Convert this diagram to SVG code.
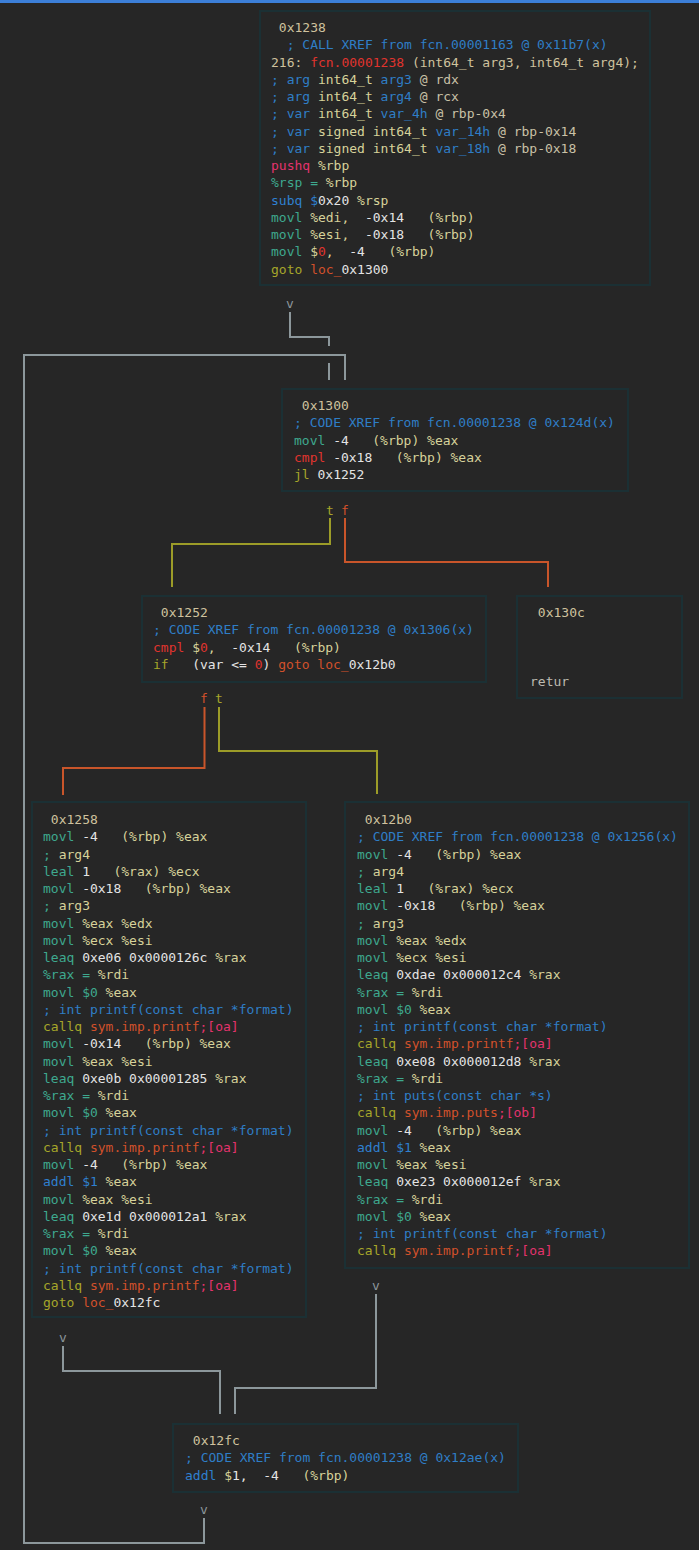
<svg xmlns="http://www.w3.org/2000/svg" width="699" height="1550" viewBox="0 0 699 1550" xml:space="preserve">
<style>
text{font-family:"DejaVu Sans Mono","Liberation Mono",monospace;font-size:13px;white-space:pre}
.node rect{fill:#262626;stroke:#1b3034;stroke-width:2}
.a{fill:#cfc29e}.c{fill:#2f7ec6}.k{fill:#d7d29a}.w{fill:#e4e4e4}.t{fill:#3ea98f}.p{fill:#e3336d}.r{fill:#e0342e}.o{fill:#d2512b}.l{fill:#a6a62a}.b{fill:#2f80d0}.g{fill:#c9c1a6}.q{fill:#bdbab0}
.e{fill:none;stroke-width:2}
.gr{stroke:#8c979b}.ol{stroke:#9c9c28}.or{stroke:#c9552a}
.lbl{text-anchor:middle}
</style>
<rect x="0" y="0" width="699" height="1550" fill="#262626"/>
<rect x="0" y="0" width="699" height="3" fill="#3c7fd8"/>
<g id="edges">
<path class="e gr" d="M290 312V337H329V346M329 363V380"/>
<path class="e gr" d="M204 1518V1543H24V355H345V380"/>
<path class="e ol" d="M330 518V544H172V587"/>
<path class="e or" d="M345 518V562H548V587"/>
<path class="e or" d="M204.5 707V768H63V795"/>
<path class="e ol" d="M219 707V751H377V794"/>
<path class="e gr" d="M63 1346V1371H220V1414"/>
<path class="e gr" d="M376 1294V1388H235V1414"/>
<text class="lbl" x="290" y="308" fill="#8c979b">v</text>
<text class="lbl" x="204" y="1514" fill="#8c979b">v</text>
<text class="lbl" x="63" y="1342" fill="#8c979b">v</text>
<text class="lbl" x="376" y="1290" fill="#8c979b">v</text>
<text class="lbl l" x="330" y="515">t</text>
<text class="lbl o" x="345" y="515">f</text>
<text class="lbl o" x="204" y="703">f</text>
<text class="lbl l" x="219" y="703">t</text>
</g>
<g id="n0x1238" class="node">
<rect x="260" y="11" width="390" height="274"/>
<text x="271" y="32"><tspan class="a"> 0x1238</tspan></text>
<text x="271" y="49.25"><tspan class="c">  ; CALL XREF from fcn.00001163 @ 0x11b7(x)</tspan></text>
<text x="271" y="66.5"><tspan class="a">216: </tspan><tspan class="r">fcn.00001238</tspan><tspan class="a"> (int64_t arg3, int64_t arg4);</tspan></text>
<text x="271" y="83.75"><tspan class="c">; arg </tspan><tspan class="k">int64_t </tspan><tspan class="c">arg3</tspan><tspan class="g"> @ rdx</tspan></text>
<text x="271" y="101"><tspan class="c">; arg </tspan><tspan class="k">int64_t </tspan><tspan class="c">arg4</tspan><tspan class="g"> @ rcx</tspan></text>
<text x="271" y="118.25"><tspan class="c">; var </tspan><tspan class="k">int64_t </tspan><tspan class="c">var_4h</tspan><tspan class="g"> @ rbp-0x4</tspan></text>
<text x="271" y="135.5"><tspan class="c">; var </tspan><tspan class="k">signed int64_t </tspan><tspan class="c">var_14h</tspan><tspan class="g"> @ rbp-0x14</tspan></text>
<text x="271" y="152.75"><tspan class="c">; var </tspan><tspan class="k">signed int64_t </tspan><tspan class="c">var_18h</tspan><tspan class="g"> @ rbp-0x18</tspan></text>
<text x="271" y="170"><tspan class="p">pushq</tspan><tspan class="k"> %rbp</tspan></text>
<text x="271" y="187.25"><tspan class="t">%rsp =</tspan><tspan class="k"> %rbp</tspan></text>
<text x="271" y="204.5"><tspan class="b">subq $</tspan><tspan class="w">0x20</tspan><tspan class="k"> %rsp</tspan></text>
<text x="271" y="221.75"><tspan class="t">movl</tspan><tspan class="k"> %edi,</tspan><tspan class="w">  -0x14</tspan><tspan class="k">   (%rbp)</tspan></text>
<text x="271" y="239"><tspan class="t">movl</tspan><tspan class="k"> %esi,</tspan><tspan class="w">  -0x18</tspan><tspan class="k">   (%rbp)</tspan></text>
<text x="271" y="256.25"><tspan class="t">movl</tspan><tspan class="k"> $</tspan><tspan class="r">0</tspan><tspan class="k">,</tspan><tspan class="w">  -4</tspan><tspan class="k">   (%rbp)</tspan></text>
<text x="271" y="273.5"><tspan class="l">goto</tspan><tspan class="o"> loc_</tspan><tspan class="w">0x1300</tspan></text>
</g>
<g id="n0x1300" class="node">
<rect x="282" y="389" width="346" height="102"/>
<text x="294" y="410"><tspan class="a"> 0x1300</tspan></text>
<text x="294" y="427.25"><tspan class="c">; CODE XREF from fcn.00001238 @ 0x124d(x)</tspan></text>
<text x="294" y="444.5"><tspan class="t">movl</tspan><tspan class="w"> -4</tspan><tspan class="k">   (%rbp) %eax</tspan></text>
<text x="294" y="461.75"><tspan class="r">cmpl</tspan><tspan class="w"> -0x18</tspan><tspan class="k">   (%rbp) %eax</tspan></text>
<text x="294" y="479"><tspan class="l">jl</tspan><tspan class="w"> 0x1252</tspan></text>
</g>
<g id="n0x1252" class="node">
<rect x="142" y="596" width="344" height="86"/>
<text x="153" y="617"><tspan class="a"> 0x1252</tspan></text>
<text x="153" y="634.25"><tspan class="c">; CODE XREF from fcn.00001238 @ 0x1306(x)</tspan></text>
<text x="153" y="651.5"><tspan class="r">cmpl</tspan><tspan class="k"> $</tspan><tspan class="r">0</tspan><tspan class="k">,</tspan><tspan class="w">  -0x14   </tspan><tspan class="k">(%rbp)</tspan></text>
<text x="153" y="668.75"><tspan class="l">if</tspan><tspan class="w">   (var &lt;= </tspan><tspan class="r">0</tspan><tspan class="w">)</tspan><tspan class="o"> goto loc_</tspan><tspan class="w">0x12b0</tspan></text>
</g>
<g id="n0x130c" class="node">
<rect x="517" y="596" width="165" height="102"/>
<text x="530" y="617"><tspan class="a"> 0x130c</tspan></text>
<text x="530" y="686"><tspan class="q">retur</tspan></text>
</g>
<g id="n0x1258" class="node">
<rect x="32" y="802" width="274" height="515"/>
<text x="43" y="824"><tspan class="a"> 0x1258</tspan></text>
<text x="43" y="841.25"><tspan class="t">movl</tspan><tspan class="w"> -4</tspan><tspan class="k">   (%rbp) %eax</tspan></text>
<text x="43" y="858.5"><tspan class="t">;</tspan><tspan class="k"> arg4</tspan></text>
<text x="43" y="875.75"><tspan class="t">leal</tspan><tspan class="w"> 1</tspan><tspan class="k">   (%rax) %ecx</tspan></text>
<text x="43" y="893"><tspan class="t">movl</tspan><tspan class="w"> -0x18</tspan><tspan class="k">   (%rbp) %eax</tspan></text>
<text x="43" y="910.25"><tspan class="t">;</tspan><tspan class="k"> arg3</tspan></text>
<text x="43" y="927.5"><tspan class="t">movl</tspan><tspan class="k"> %eax %edx</tspan></text>
<text x="43" y="944.75"><tspan class="t">movl</tspan><tspan class="k"> %ecx %esi</tspan></text>
<text x="43" y="962"><tspan class="t">leaq</tspan><tspan class="w"> 0xe06 0x0000126c</tspan><tspan class="k"> %rax</tspan></text>
<text x="43" y="979.25"><tspan class="t">%rax =</tspan><tspan class="k"> %rdi</tspan></text>
<text x="43" y="996.5"><tspan class="t">movl $0</tspan><tspan class="k"> %eax</tspan></text>
<text x="43" y="1013.75"><tspan class="c">; int printf(const char *format)</tspan></text>
<text x="43" y="1031"><tspan class="l">callq</tspan><tspan class="o"> sym.imp.printf</tspan><tspan class="p">;[oa]</tspan></text>
<text x="43" y="1048.25"><tspan class="t">movl</tspan><tspan class="w"> -0x14</tspan><tspan class="k">   (%rbp) %eax</tspan></text>
<text x="43" y="1065.5"><tspan class="t">movl</tspan><tspan class="k"> %eax %esi</tspan></text>
<text x="43" y="1082.75"><tspan class="t">leaq</tspan><tspan class="w"> 0xe0b 0x00001285</tspan><tspan class="k"> %rax</tspan></text>
<text x="43" y="1100"><tspan class="t">%rax =</tspan><tspan class="k"> %rdi</tspan></text>
<text x="43" y="1117.25"><tspan class="t">movl $0</tspan><tspan class="k"> %eax</tspan></text>
<text x="43" y="1134.5"><tspan class="c">; int printf(const char *format)</tspan></text>
<text x="43" y="1151.75"><tspan class="l">callq</tspan><tspan class="o"> sym.imp.printf</tspan><tspan class="p">;[oa]</tspan></text>
<text x="43" y="1169"><tspan class="t">movl</tspan><tspan class="w"> -4</tspan><tspan class="k">   (%rbp) %eax</tspan></text>
<text x="43" y="1186.25"><tspan class="b">addl $1</tspan><tspan class="k"> %eax</tspan></text>
<text x="43" y="1203.5"><tspan class="t">movl</tspan><tspan class="k"> %eax %esi</tspan></text>
<text x="43" y="1220.75"><tspan class="t">leaq</tspan><tspan class="w"> 0xe1d 0x000012a1</tspan><tspan class="k"> %rax</tspan></text>
<text x="43" y="1238"><tspan class="t">%rax =</tspan><tspan class="k"> %rdi</tspan></text>
<text x="43" y="1255.25"><tspan class="t">movl $0</tspan><tspan class="k"> %eax</tspan></text>
<text x="43" y="1272.5"><tspan class="c">; int printf(const char *format)</tspan></text>
<text x="43" y="1289.75"><tspan class="l">callq</tspan><tspan class="o"> sym.imp.printf</tspan><tspan class="p">;[oa]</tspan></text>
<text x="43" y="1307"><tspan class="l">goto</tspan><tspan class="o"> loc_</tspan><tspan class="w">0x12fc</tspan></text>
</g>
<g id="n0x12b0" class="node">
<rect x="345" y="802" width="344" height="466"/>
<text x="357" y="824"><tspan class="a"> 0x12b0</tspan></text>
<text x="357" y="841.25"><tspan class="c">; CODE XREF from fcn.00001238 @ 0x1256(x)</tspan></text>
<text x="357" y="858.5"><tspan class="t">movl</tspan><tspan class="w"> -4</tspan><tspan class="k">   (%rbp) %eax</tspan></text>
<text x="357" y="875.75"><tspan class="t">;</tspan><tspan class="k"> arg4</tspan></text>
<text x="357" y="893"><tspan class="t">leal</tspan><tspan class="w"> 1</tspan><tspan class="k">   (%rax) %ecx</tspan></text>
<text x="357" y="910.25"><tspan class="t">movl</tspan><tspan class="w"> -0x18</tspan><tspan class="k">   (%rbp) %eax</tspan></text>
<text x="357" y="927.5"><tspan class="t">;</tspan><tspan class="k"> arg3</tspan></text>
<text x="357" y="944.75"><tspan class="t">movl</tspan><tspan class="k"> %eax %edx</tspan></text>
<text x="357" y="962"><tspan class="t">movl</tspan><tspan class="k"> %ecx %esi</tspan></text>
<text x="357" y="979.25"><tspan class="t">leaq</tspan><tspan class="w"> 0xdae 0x000012c4</tspan><tspan class="k"> %rax</tspan></text>
<text x="357" y="996.5"><tspan class="t">%rax =</tspan><tspan class="k"> %rdi</tspan></text>
<text x="357" y="1013.75"><tspan class="t">movl $0</tspan><tspan class="k"> %eax</tspan></text>
<text x="357" y="1031"><tspan class="c">; int printf(const char *format)</tspan></text>
<text x="357" y="1048.25"><tspan class="l">callq</tspan><tspan class="o"> sym.imp.printf</tspan><tspan class="p">;[oa]</tspan></text>
<text x="357" y="1065.5"><tspan class="t">leaq</tspan><tspan class="w"> 0xe08 0x000012d8</tspan><tspan class="k"> %rax</tspan></text>
<text x="357" y="1082.75"><tspan class="t">%rax =</tspan><tspan class="k"> %rdi</tspan></text>
<text x="357" y="1100"><tspan class="c">; int puts(const char *s)</tspan></text>
<text x="357" y="1117.25"><tspan class="l">callq</tspan><tspan class="o"> sym.imp.puts</tspan><tspan class="p">;[ob]</tspan></text>
<text x="357" y="1134.5"><tspan class="t">movl</tspan><tspan class="w"> -4</tspan><tspan class="k">   (%rbp) %eax</tspan></text>
<text x="357" y="1151.75"><tspan class="b">addl $1</tspan><tspan class="k"> %eax</tspan></text>
<text x="357" y="1169"><tspan class="t">movl</tspan><tspan class="k"> %eax %esi</tspan></text>
<text x="357" y="1186.25"><tspan class="t">leaq</tspan><tspan class="w"> 0xe23 0x000012ef</tspan><tspan class="k"> %rax</tspan></text>
<text x="357" y="1203.5"><tspan class="t">%rax =</tspan><tspan class="k"> %rdi</tspan></text>
<text x="357" y="1220.75"><tspan class="t">movl $0</tspan><tspan class="k"> %eax</tspan></text>
<text x="357" y="1238"><tspan class="c">; int printf(const char *format)</tspan></text>
<text x="357" y="1255.25"><tspan class="l">callq</tspan><tspan class="o"> sym.imp.printf</tspan><tspan class="p">;[oa]</tspan></text>
</g>
<g id="n0x12fc" class="node">
<rect x="173" y="1424" width="345" height="68"/>
<text x="185" y="1445"><tspan class="a"> 0x12fc</tspan></text>
<text x="185" y="1462.25"><tspan class="c">; CODE XREF from fcn.00001238 @ 0x12ae(x)</tspan></text>
<text x="185" y="1479.5"><tspan class="b">addl</tspan><tspan class="k"> $</tspan><tspan class="w">1,  -4   </tspan><tspan class="k">(%rbp)</tspan></text>
</g>
</svg>
